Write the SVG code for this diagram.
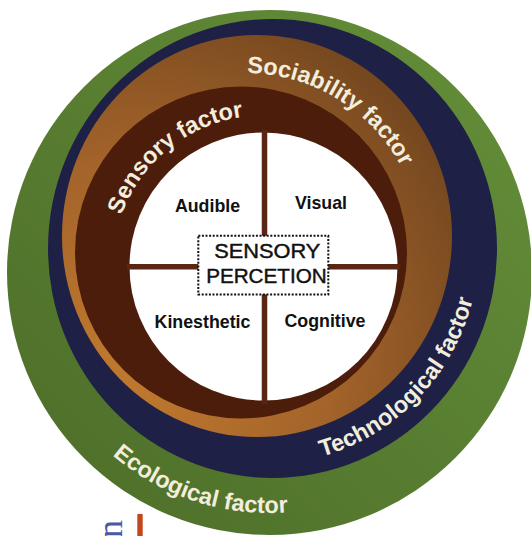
<svg xmlns="http://www.w3.org/2000/svg" width="531" height="536" viewBox="0 0 531 536">
  <style>
    .ring-label { font-family: "Liberation Sans", Arial, sans-serif; font-weight: bold; font-size: 23.5px; fill: #f2eddc; }
    .quad { font-family: "Liberation Sans", Arial, sans-serif; font-weight: bold; font-size: 17.8px; fill: #111111; text-anchor: middle; }
    .center-text { font-family: "Liberation Sans", Arial, sans-serif; font-size: 21px; fill: #111111; stroke: #111111; stroke-width: 0.45px; text-anchor: middle; }
    .divider { stroke: #5a2512; stroke-width: 5.5; fill: none; }
  </style>
  <defs>
    <linearGradient id="gGreen" x1="1" y1="0" x2="0" y2="1">
      <stop offset="0" stop-color="#65903a"/>
      <stop offset="1" stop-color="#4c6c28"/>
    </linearGradient>
    <radialGradient id="gOrange" cx="0.2" cy="0.8" r="1" fx="0.2" fy="0.8">
      <stop offset="0" stop-color="#c27b2e"/>
      <stop offset="0.5" stop-color="#a3632a"/>
      <stop offset="1" stop-color="#6c421d"/>
    </radialGradient>
    <path id="pEco" d="M33.3,322.1 A241,241 0 0 0 430.3,451.1"/>
    <path id="pTech" d="M210.1,458.7 A217,217 0 0 0 470.4,187.6"/>
    <path id="pSoc" d="M134.3,111.9 A177,177 0 0 1 418.6,284.7"/>
    <path id="pSens" d="M120.6,315.4 A151,151 0 0 1 341.5,137.2"/>
  </defs>

  <rect x="0" y="0" width="531" height="536" fill="#ffffff"/>

  <g id="ecological-factor">
    <circle cx="269.5" cy="272.5" r="262.5" fill="url(#gGreen)"/>
  </g>
  <g id="technological-factor">
    <ellipse cx="272.5" cy="248.5" rx="224.5" ry="229.5" fill="#1e2046"/>
  </g>
  <g id="sociability-factor">
    <ellipse cx="257" cy="236" rx="195" ry="201" fill="url(#gOrange)"/>
  </g>
  <g id="sensory-factor">
    <circle cx="241" cy="252.5" r="166" fill="#4d1d0c"/>
  </g>
  <g id="sensory-core">
    <circle cx="263.5" cy="266.5" r="134" fill="#ffffff"/>
  </g>

  <g id="connectors">
    <line class="divider" x1="264.5" y1="130" x2="264.5" y2="404"/>
    <line class="divider" x1="127" y1="266.7" x2="400" y2="266.7"/>
  </g>

  <g id="ring-labels">
    <text class="ring-label"><textPath href="#pEco" startOffset="50%" text-anchor="middle">Ecological factor</textPath></text>
    <text class="ring-label"><textPath href="#pTech" startOffset="50%" text-anchor="middle">Technological factor</textPath></text>
    <text class="ring-label"><textPath href="#pSoc" startOffset="50%" text-anchor="middle">Sociability factor</textPath></text>
    <text class="ring-label"><textPath href="#pSens" startOffset="50%" text-anchor="middle">Sensory factor</textPath></text>
  </g>

  <g id="audible"><text class="quad" x="207.5" y="212">Audible</text></g>
  <g id="visual"><text class="quad" x="321" y="209">Visual</text></g>
  <g id="kinesthetic"><text class="quad" x="202.5" y="328">Kinesthetic</text></g>
  <g id="cognitive"><text class="quad" x="325" y="327">Cognitive</text></g>

  <g id="sensory-perception">
    <rect x="198.3" y="235.8" width="130" height="58.6" fill="#ffffff" stroke="#111111" stroke-width="2" stroke-dasharray="2 1.6"/>
    <text class="center-text" x="267.3" y="257.5" textLength="106" lengthAdjust="spacingAndGlyphs">SENSORY</text>
    <text class="center-text" x="266.4" y="283" textLength="120.5" lengthAdjust="spacingAndGlyphs">PERCETION</text>
  </g>

  <g id="page-fragments">
    <text x="122" y="538" transform="rotate(-90 122 538)" font-family="Liberation Serif, serif" font-size="36" fill="#4a5aa8">n</text>
    <rect x="137.3" y="514" width="5.4" height="22" fill="#c4471b"/>
  </g>
</svg>
